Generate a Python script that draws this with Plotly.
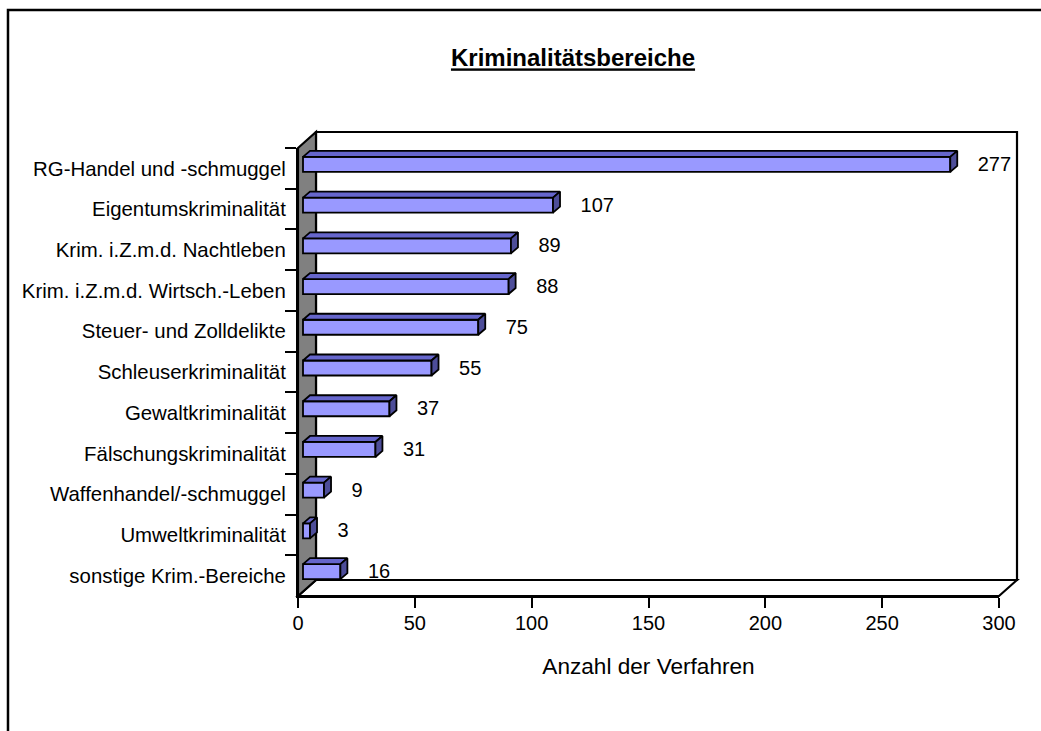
import plotly.graph_objects as go

W, H = 1041, 731
categories = ["RG-Handel und -schmuggel", "Eigentumskriminalität", "Krim. i.Z.m.d. Nachtleben",
              "Krim. i.Z.m.d. Wirtsch.-Leben", "Steuer- und Zolldelikte", "Schleuserkriminalität",
              "Gewaltkriminalität", "Fälschungskriminalität", "Waffenhandel/-schmuggel",
              "Umweltkriminalität", "sonstige Krim.-Bereiche"]
values = [277, 107, 89, 88, 75, 55, 37, 31, 9, 3, 16]
x_ticks = [0, 50, 100, 150, 200, 250, 300]

X0, X1, Y0, Y1 = 298, 999, 148, 596
BACK_X, BACK_Y = 18, 16
FONT = "Liberation Sans"
px_x = 300 / (X1 - X0)
px_y = len(categories) / (Y1 - Y0)
pad = 5 * px_x
depth_x = 7 * px_x
depth_y = 6 * px_y
shift = 4 * px_y
half = 7.5 * px_y
label_gap = 32.5 * px_x
n = len(categories)

def pts(points):
    return "M" + " L".join(f"{x / W:.5f},{1 - y / H:.5f}" for x, y in points) + " Z"

top_x, top_y, side_x, side_y, lab_x, lab_y = [], [], [], [], [], []
for i, v in enumerate(values):
    c = i - shift
    xl, xr = pad, v + pad
    yt, yb = c - half, c + half
    top_x += [xl, xl + depth_x, xr + depth_x, xr, xl, None]
    top_y += [yt, yt - depth_y, yt - depth_y, yt, yt, None]
    side_x += [xr, xr + depth_x, xr + depth_x, xr, xr, None]
    side_y += [yt, yt - depth_y, yb - depth_y, yb, yt, None]
    lab_x.append(v + label_gap)
    lab_y.append(c + 1.5 * px_y)

line = dict(color="black", width=1.8)
fig = go.Figure()
fig.add_trace(go.Bar(y=categories, x=values, base=pad, orientation="h",
                     width=2 * half, offset=-shift - half,
                     marker=dict(color="#9999FF", line=line), showlegend=False))
fig.add_trace(go.Scatter(x=top_x, y=top_y, yaxis="y2", mode="lines", fill="toself",
                         fillcolor="#6666CC", line=line, showlegend=False))
fig.add_trace(go.Scatter(x=side_x, y=side_y, yaxis="y2", mode="lines", fill="toself",
                         fillcolor="#4D4D99", line=line, showlegend=False))
fig.add_trace(go.Scatter(x=lab_x, y=lab_y, yaxis="y2", mode="text", text=[str(v) for v in values],
                         textposition="middle right", cliponaxis=False,
                         textfont=dict(family=FONT, size=20, color="black"), showlegend=False))

wall = dict(color="black", width=2.2)
shapes = [
    dict(type="path", xref="paper", yref="paper", layer="below", fillcolor="white", line=wall,
         path=pts([(X0 + BACK_X, Y0 - BACK_Y), (X1 + BACK_X, Y0 - BACK_Y), (X1 + BACK_X, Y1 - BACK_Y), (X0 + BACK_X, Y1 - BACK_Y)])),
    dict(type="path", xref="paper", yref="paper", layer="below", fillcolor="white", line=wall,
         path=pts([(X0, Y1), (X0 + BACK_X, Y1 - BACK_Y), (X1 + BACK_X, Y1 - BACK_Y), (X1, Y1)])),
    dict(type="path", xref="paper", yref="paper", layer="below", fillcolor="#808080", line=wall,
         path=pts([(X0, Y0), (X0 + BACK_X, Y0 - BACK_Y), (X0 + BACK_X, Y1 - BACK_Y), (X0, Y1)])),
    dict(type="path", xref="paper", yref="paper", layer="below", line=dict(color="black", width=2.5),
         path="M" + " L".join(f"{x / W:.5f},{1 - y / H:.5f}" for x, y in [(8, H + 5), (8, 10), (W + 5, 10)])),
]

fig.update_layout(
    width=W, height=H, margin=dict(l=0, r=0, t=0, b=0, autoexpand=False), autosize=False,
    paper_bgcolor="white", plot_bgcolor="rgba(0,0,0,0)", shapes=shapes, showlegend=False,
    title=dict(text="<b>Kriminalitätsbereiche</b>", x=573 / W, xanchor="center", xref="paper",
               y=1 - 58 / H, yanchor="middle", automargin=False,
               font=dict(family=FONT, size=24, color="black", lineposition="under")),
    xaxis=dict(domain=[X0 / W, X1 / W], range=[0, 300], tickvals=x_ticks, ticks="outside", ticklen=10,
               tickwidth=1.5, tickcolor="black", showgrid=False, zeroline=False, showline=True,
               linecolor="black", linewidth=2.2, anchor="y", automargin=False, ticklabelstandoff=-2,
               tickfont=dict(family=FONT, size=20, color="black"),
               title=dict(text="Anzahl der Verfahren", standoff=25,
                          font=dict(family=FONT, size=22.6, color="black"))),
    yaxis=dict(domain=[1 - Y1 / H, 1 - Y0 / H], type="category", categoryorder="array",
               categoryarray=categories, range=[n - 0.5, -0.5], tickson="boundaries", ticks="outside",
               ticklen=11, tickwidth=1.5, tickcolor="black", showgrid=False, zeroline=False, showline=True,
               linecolor="black", linewidth=2.2, anchor="x", automargin=False, ticklabelstandoff=6,
               tickfont=dict(family=FONT, size=20.4, color="black")),
    yaxis2=dict(domain=[1 - Y1 / H, 1 - Y0 / H], overlaying="y", range=[n - 0.5, -0.5], visible=False,
                anchor="x"),
)
fig.write_html("out.html", config=dict(displayModeBar=False),
               post_script="document.body.style.margin='0';document.body.style.overflow='hidden';")
